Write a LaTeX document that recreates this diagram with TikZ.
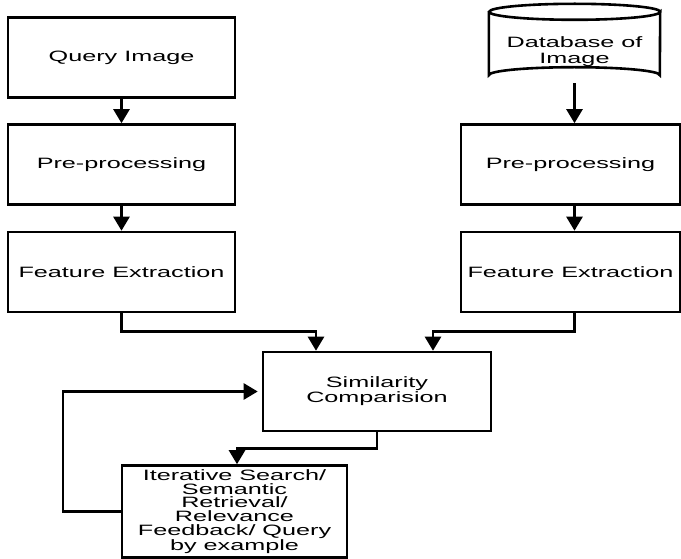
\documentclass[tikz,border=0pt]{standalone}
\usepackage{fontspec}
\newfontfamily\diagfont[FakeStretch=1.68]{Liberation Sans}
\usetikzlibrary{arrows.meta,calc}
\tikzset{
  txt/.style={font=\diagfont\fontsize{15}{13.8}\selectfont},
  box/.style={draw, line width=2.6pt, minimum height=80pt, align=center, inner sep=0pt, txt},
  conn/.style={line width=2.6pt, -{Triangle[width=16pt,length=14pt]}},
}
\begin{document}
\begin{tikzpicture}[x=1pt,y=-1pt]
\useasboundingbox (0,0) rectangle (681,559);
% left column
\node[box, minimum width=227pt] (q) at (121.5,57.5) {Query Image};
\node[box, minimum width=227pt] (pp1) at (121.5,164.5) {Pre-processing};
\node[box, minimum width=227pt] (fe1) at (121.5,272) {Feature Extraction};
% right column
\node[minimum width=171pt, minimum height=79pt, inner sep=0pt,
  label={[align=center, yshift=-8pt, font=\diagfont\fontsize{15}{15.5}\selectfont]center:Database of\\Image}] (db) at (574.5,43.5) {};
\draw[line width=2.6pt] ($(db.north west)+(0,8)$) -- ($(db.south west)+(0,-8)$)
  arc[start angle=180, end angle=360, x radius=85.5pt, y radius=-8pt]
  -- ($(db.north east)+(0,8)$)
  arc[start angle=0, end angle=360, x radius=85.5pt, y radius=-8pt];
\node[box, minimum width=219pt] (pp2) at (570.5,164.5) {Pre-processing};
\node[box, minimum width=219pt] (fe2) at (570.5,272) {Feature Extraction};
% middle
\node[box, minimum width=228pt, minimum height=79pt] (sim) at (377,391.5) {Similarity\\Comparision};
\node[box, minimum width=225pt, minimum height=92pt] (it) at (234.5,511.5)
  {Iterative Search/\\Semantic\\Retrieval/\\Relevance\\Feedback/ Query\\by example};
% connectors
\draw[conn] (q) -- (pp1);
\draw[conn] (pp1) -- (fe1);
\draw[conn] (db.south) -- (db.south |- pp2.north);
\draw[conn] (db.south |- pp2.south) -- (db.south |- fe2.north);
\coordinate (s1) at ($(sim.north)+(-61,0)$);
\coordinate (s2) at ($(sim.north)+(56,0)$);
\draw[conn] (fe1.south) -- ++(0,18) -| (s1);
\draw[conn] (db.south |- fe2.south) -- ++(0,18) -| (s2);
\coordinate (i1) at ($(it.north)+(2.5,0)$);
\draw[conn] (sim.south) -- ++(0,16) -| (i1);
\coordinate (lp) at (63,511.5);
\draw[conn, shorten >=4pt] (it.west) -- (lp) |- (sim.west);
\end{tikzpicture}
\end{document}
